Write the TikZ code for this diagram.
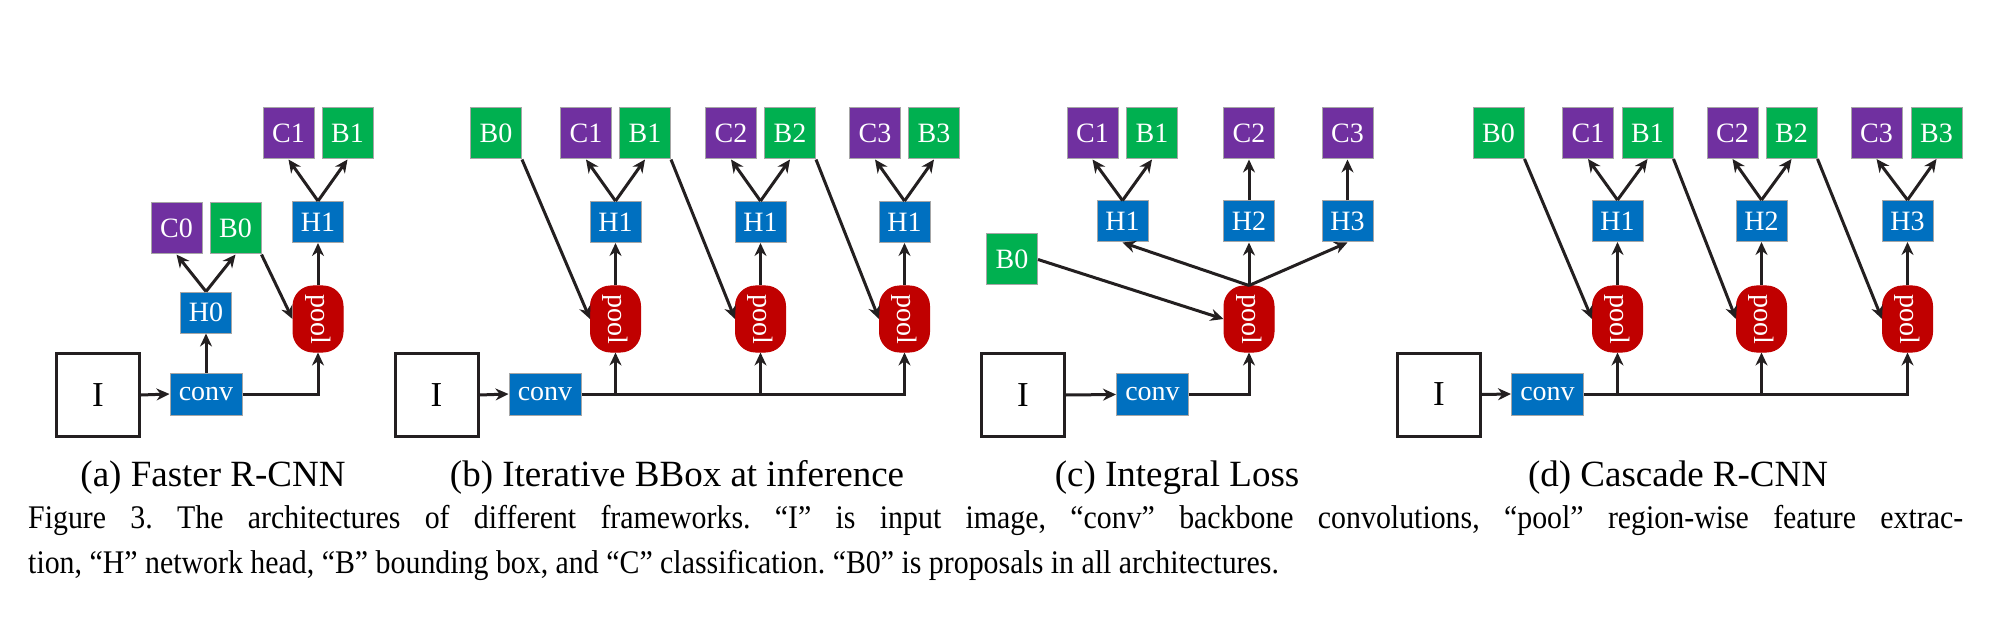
\documentclass[tikz,border=0pt]{standalone}
\usepackage{fontspec}
\setmainfont{Liberation Serif}
\newfontfamily\tnr{Liberation Serif}
\newfontfamily\capfont[FakeStretch=0.905]{Liberation Serif}
\usetikzlibrary{arrows.meta}
\definecolor{cpur}{HTML}{7030A0}
\definecolor{bgrn}{HTML}{00B050}
\definecolor{hblu}{HTML}{0070C0}
\definecolor{pred}{HTML}{C00000}
\definecolor{ink}{HTML}{231F20}
\begin{document}
\begin{tikzpicture}[x=1pt,y=-1pt,
  lbl/.style={draw=gray!70, line width=1pt, text=white, inner sep=0pt, font=\tnr\fontsize{28}{28}\selectfont},
  cbox/.style={lbl, fill=cpur, minimum width=51pt, minimum height=51pt},
  bbox/.style={lbl, fill=bgrn, minimum width=51pt, minimum height=51pt},
  hbox/.style={lbl, fill=hblu, minimum width=51pt, minimum height=41pt},
  convbox/.style={lbl, fill=hblu, minimum width=72pt, minimum height=42pt},
  poolbox/.style={lbl, fill=pred, draw=pred, minimum width=50pt, minimum height=66pt, rounded corners=20pt},
  ibox/.style={draw=ink, line width=3pt, minimum size=83pt, inner sep=0pt, font=\tnr\fontsize{35}{35}\selectfont},
  arr/.style={draw=ink, line width=3pt, -{Stealth[length=13pt,width=12pt]}},
  sub/.style={font=\tnr\fontsize{37}{37}\selectfont, anchor=base, inner sep=0pt},
]
\useasboundingbox (0,0) rectangle (2015,628);

% ---------- (a) Faster R-CNN ----------
\node[ibox] (Ia) at (98,395) {I};
\node[convbox] (conva) at (206,394) {conv};
\node[hbox] (Ha0) at (206,312.5) {H0};
\node[cbox] (Ca0) at (176.5,228.5) {C0};
\node[bbox] (Ba0) at (235.5,228.5) {B0};
\node[poolbox] (poola) at (318,319) {\rotatebox{-90}{pool}};
\node[hbox] (Ha1) at (318,222) {H1};
\node[cbox] (Ca1) at (288.5,133.5) {C1};
\node[bbox] (Ba1) at (347.5,133.5) {B1};
\draw[arr] (Ia.east) -- (conva.west);
\draw[arr] (conva.north) -- (Ha0.south);
\draw[arr] (conva.east) -| (poola.south);
\draw[arr] (Ha0.north) -- (Ca0.south);
\draw[arr] (Ha0.north) -- (Ba0.south);
\draw[arr] (Ba0.south east) -- (poola.west);
\draw[arr] (poola.north) -- (Ha1.south);
\draw[arr] (Ha1.north) -- (Ca1.south);
\draw[arr] (Ha1.north) -- (Ba1.south);
\node[sub] (capa) at (213,486) {(a) Faster R-CNN};

% ---------- (b) Iterative BBox ----------
\node[ibox] (Ib) at (436.5,395) {I};
\node[convbox] (convb) at (545,394) {conv};
\node[bbox] (Bb0) at (496,133.5) {B0};
\node[hbox] (Hb1) at (615.5,222) {H1};
\node[poolbox] (poolb1) at (615.5,319) {\rotatebox{-90}{pool}};
\node[cbox] (Cb1) at (586,133.5) {C1};
\node[bbox] (Bb1) at (645,133.5) {B1};
\node[hbox] (Hb2) at (760.5,222) {H1};
\node[poolbox] (poolb2) at (760.5,319) {\rotatebox{-90}{pool}};
\node[cbox] (Cb2) at (731,133.5) {C2};
\node[bbox] (Bb2) at (790,133.5) {B2};
\node[hbox] (Hb3) at (904.5,222) {H1};
\node[poolbox] (poolb3) at (904.5,319) {\rotatebox{-90}{pool}};
\node[cbox] (Cb3) at (875,133.5) {C3};
\node[bbox] (Bb3) at (934,133.5) {B3};
\draw[arr] (Ib.east) -- (convb.west);
\draw[arr] (convb.east) -| (poolb3.south);
\draw[arr] (poolb1.south |- convb.east) -- (poolb1.south);
\draw[arr] (poolb2.south |- convb.east) -- (poolb2.south);
\draw[arr] (Bb0.south east) -- (poolb1.west);
\draw[arr] (Bb1.south east) -- (poolb2.west);
\draw[arr] (Bb2.south east) -- (poolb3.west);
\draw[arr] (poolb1.north) -- (Hb1.south);
\draw[arr] (poolb2.north) -- (Hb2.south);
\draw[arr] (poolb3.north) -- (Hb3.south);
\draw[arr] (Hb1.north) -- (Cb1.south);
\draw[arr] (Hb1.north) -- (Bb1.south);
\draw[arr] (Hb2.north) -- (Cb2.south);
\draw[arr] (Hb2.north) -- (Bb2.south);
\draw[arr] (Hb3.north) -- (Cb3.south);
\draw[arr] (Hb3.north) -- (Bb3.south);
\node[sub] (capb) at (677,486) {(b) Iterative BBox at inference};

% ---------- (c) Integral Loss ----------
\node[ibox] (Ic) at (1023,395) {I};
\node[convbox] (convc) at (1152.5,394.5) {conv};
\node[poolbox] (poolc) at (1249,319) {\rotatebox{-90}{pool}};
\node[bbox] (Bc0) at (1012,259.5) {B0};
\node[hbox] (Hc1) at (1122.5,221.5) {H1};
\node[hbox] (Hc2) at (1249,221.5) {H2};
\node[hbox] (Hc3) at (1347.5,221.5) {H3};
\node[cbox] (Cc1) at (1092.5,133.5) {C1};
\node[bbox] (Bc1) at (1152,133.5) {B1};
\node[cbox] (Cc2) at (1249,133.5) {C2};
\node[cbox] (Cc3) at (1347.5,133.5) {C3};
\draw[arr] (Ic.east) -- (convc.west);
\draw[arr] (convc.east) -| (poolc.south);
\draw[arr] (Bc0.east) -- (poolc.west);
\draw[arr] (poolc.north) -- (Hc1.south);
\draw[arr] (poolc.north) -- (Hc2.south);
\draw[arr] (poolc.north) -- (Hc3.south);
\draw[arr] (Hc1.north) -- (Cc1.south);
\draw[arr] (Hc1.north) -- (Bc1.south);
\draw[arr] (Hc2.north) -- (Cc2.south);
\draw[arr] (Hc3.north) -- (Cc3.south);
\node[sub] (capc) at (1177,486) {(c) Integral Loss};

% ---------- (d) Cascade R-CNN ----------
\node[ibox] (Id) at (1439,394.5) {I};
\node[convbox] (convd) at (1547.5,394) {conv};
\node[bbox] (Bd0) at (1498.5,133) {B0};
\node[hbox] (Hd1) at (1617.5,221) {H1};
\node[poolbox] (poold1) at (1617.5,319) {\rotatebox{-90}{pool}};
\node[cbox] (Cd1) at (1588,133) {C1};
\node[bbox] (Bd1) at (1647.5,133) {B1};
\node[hbox] (Hd2) at (1761.5,221) {H2};
\node[poolbox] (poold2) at (1761.5,319) {\rotatebox{-90}{pool}};
\node[cbox] (Cd2) at (1732.5,133) {C2};
\node[bbox] (Bd2) at (1791.5,133) {B2};
\node[hbox] (Hd3) at (1907.5,221) {H3};
\node[poolbox] (poold3) at (1907.5,319) {\rotatebox{-90}{pool}};
\node[cbox] (Cd3) at (1876.5,133) {C3};
\node[bbox] (Bd3) at (1936.5,133) {B3};
\draw[arr] (Id.east) -- (convd.west);
\draw[arr] (convd.east) -| (poold3.south);
\draw[arr] (poold1.south |- convd.east) -- (poold1.south);
\draw[arr] (poold2.south |- convd.east) -- (poold2.south);
\draw[arr] (Bd0.south east) -- (poold1.west);
\draw[arr] (Bd1.south east) -- (poold2.west);
\draw[arr] (Bd2.south east) -- (poold3.west);
\draw[arr] (poold1.north) -- (Hd1.south);
\draw[arr] (poold2.north) -- (Hd2.south);
\draw[arr] (poold3.north) -- (Hd3.south);
\draw[arr] (Hd1.north) -- (Cd1.south);
\draw[arr] (Hd1.north) -- (Bd1.south);
\draw[arr] (Hd2.north) -- (Cd2.south);
\draw[arr] (Hd2.north) -- (Bd2.south);
\draw[arr] (Hd3.north) -- (Cd3.south);
\draw[arr] (Hd3.north) -- (Bd3.south);
\node[sub] (capd) at (1678,486) {(d) Cascade R-CNN};

% ---------- Figure caption ----------
\node[anchor=base west, inner sep=0pt] (cap1) at (28,528) {\capfont\fontsize{33}{33}\selectfont\frenchspacing\makebox[1935pt][s]{Figure 3. The architectures of different frameworks. “I” is input image, “conv” backbone convolutions, “pool” region-wise feature extrac-}};
\node[anchor=base west, inner sep=0pt] (cap2) at (28,573) {\capfont\fontsize{33}{33}\selectfont\frenchspacing tion, “H” network head, “B” bounding box, and “C” classification. “B0” is proposals in all architectures.};
\end{tikzpicture}
\end{document}
